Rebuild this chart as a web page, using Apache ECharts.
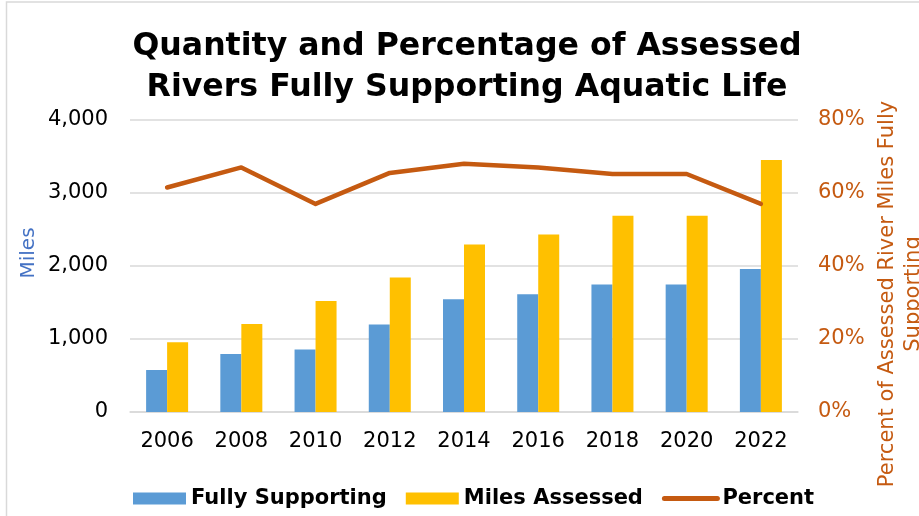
<!DOCTYPE html>
<html>
<head>
<meta charset="utf-8">
<script src="https://cdn.jsdelivr.net/npm/echarts@6/dist/echarts.min.js"></script>
<style>
  html, body { margin: 0; padding: 0; background: #fff; }
  #chart { width: 919px; height: 516px; }
</style>
</head>
<body>
<div id="chart"></div>
<script>
// Assessed river miles by reporting year
const years = ['2006', '2008', '2010', '2012', '2014', '2016', '2018', '2020', '2022'];
const fullySupporting = [575, 795, 855, 1197, 1545, 1612, 1745, 1745, 1960];
const milesAssessed = [955, 1205, 1520, 1841, 2293, 2430, 2690, 2690, 3452];
const percentSupporting = [61.5, 67, 57, 65.5, 68, 67, 65.2, 65.2, 57];

const FONT = '"DejaVu Sans", Verdana, sans-serif';
const ORANGE = '#C55A11';
const GRID_GRAY = '#D9D9D9';

const chart = echarts.init(document.getElementById('chart'));

chart.setOption({
  animation: false,
  backgroundColor: '#fff',
  textStyle: { fontFamily: FONT },
  title: {
    text: 'Quantity and Percentage of Assessed\nRivers Fully Supporting Aquatic Life',
    left: 462,
    top: 21,
    textAlign: 'center',
    textStyle: {
      fontFamily: FONT,
      fontWeight: 'bold',
      fontSize: 31.6,
      lineHeight: 41,
      color: '#000'
    }
  },
  legend: {
    left: 128,
    top: 483,
    itemWidth: 53,
    itemHeight: 12,
    itemGap: 19,
    textStyle: { fontFamily: FONT, fontWeight: 'bold', fontSize: 21, color: '#000' },
    data: [
      { name: 'Fully Supporting', icon: 'rect' },
      { name: 'Miles Assessed', icon: 'rect' },
      { name: 'Percent', itemStyle: { opacity: 0 }, lineStyle: { width: 5 } }
    ]
  },
  graphic: [
    {
      type: 'rect',
      silent: true,
      z: -10,
      shape: { x: 6.5, y: 2, width: 930, height: 530 },
      style: { fill: 'none', stroke: GRID_GRAY, lineWidth: 1.5 }
    },
    {
      type: 'text',
      x: 29,
      y: 253,
      rotation: Math.PI / 2,
      style: {
        text: 'Miles',
        fill: '#4472C4',
        font: '20px ' + FONT,
        align: 'center',
        verticalAlign: 'middle'
      }
    },
    {
      type: 'text',
      x: 901,
      y: 294,
      rotation: Math.PI / 2,
      style: {
        text: 'Percent of Assessed River Miles Fully\nSupporting',
        fill: ORANGE,
        font: '21px ' + FONT,
        lineHeight: 26,
        align: 'center',
        verticalAlign: 'middle'
      }
    }
  ],
  grid: { left: 130, right: 121, top: 120, bottom: 104 },
  xAxis: {
    type: 'category',
    data: years,
    axisTick: { show: false },
    axisLine: { lineStyle: { color: GRID_GRAY, width: 1.5 } },
    axisLabel: { color: '#000', fontSize: 21, fontFamily: FONT, margin: 19 }
  },
  yAxis: [
    {
      type: 'value',
      min: 0,
      max: 4000,
      interval: 1000,
      axisLine: { show: false },
      axisTick: { show: false },
      splitLine: { lineStyle: { color: GRID_GRAY, width: 1.5 } },
      axisLabel: {
        color: '#000',
        fontSize: 21,
        fontFamily: FONT,
        margin: 22,
        formatter: v => v.toLocaleString('en-US')
      }
    },
    {
      type: 'value',
      min: 0,
      max: 80,
      interval: 20,
      position: 'right',
      axisLine: { show: false },
      axisTick: { show: false },
      splitLine: { show: false },
      axisLabel: { color: ORANGE, fontSize: 21, fontFamily: FONT, margin: 20, formatter: '{value}%' }
    }
  ],
  series: [
    {
      name: 'Fully Supporting',
      type: 'bar',
      data: fullySupporting,
      barWidth: 21,
      barGap: '0%',
      itemStyle: { color: '#5B9BD5' }
    },
    {
      name: 'Miles Assessed',
      type: 'bar',
      data: milesAssessed,
      barWidth: 21,
      barGap: '0%',
      itemStyle: { color: '#FFC000' }
    },
    {
      name: 'Percent',
      type: 'line',
      yAxisIndex: 1,
      data: percentSupporting,
      symbol: 'none',
      lineStyle: { color: ORANGE, width: 4.5, cap: 'round', join: 'round' },
      itemStyle: { color: ORANGE },
      z: 5
    }
  ]
});
</script>
</body>
</html>
